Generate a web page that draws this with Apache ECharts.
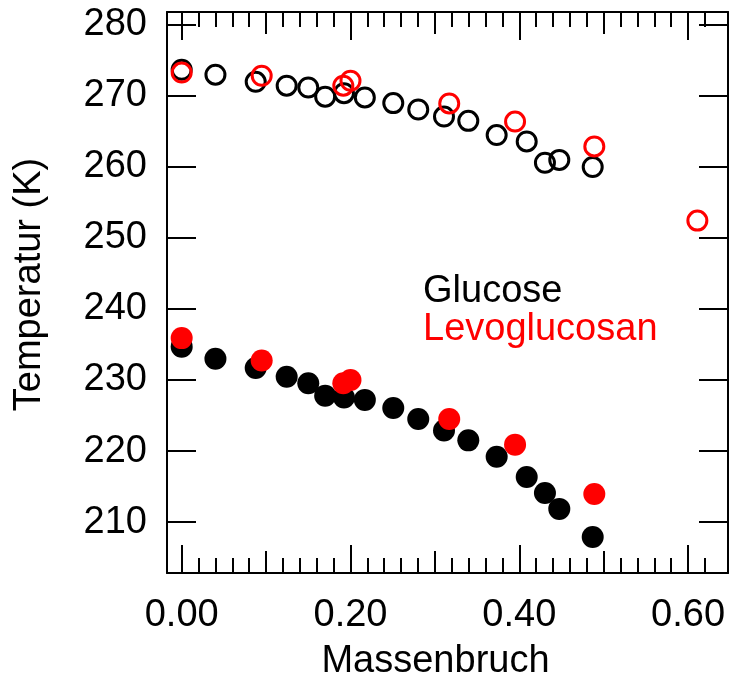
<!DOCTYPE html>
<html>
<head>
<meta charset="utf-8">
<script src="https://cdn.jsdelivr.net/npm/echarts@6/dist/echarts.min.js"></script>
<style>
  html, body { margin: 0; padding: 0; background: #fff; }
  #chart { width: 730px; height: 677px; }
</style>
</head>
<body>
<div id="chart"></div>
<script>
// ---- data ----
const glucoseX = [0.000, 0.040, 0.0877, 0.1244, 0.150, 0.170, 0.1923, 0.217, 0.2507, 0.2803, 0.3108, 0.3396, 0.3732, 0.4088, 0.4304, 0.4474, 0.487];
const glucoseMelt = [273.7, 273.0, 272.0, 271.45, 271.2, 269.9, 270.4, 269.8, 269.0, 268.1, 267.1, 266.5, 264.5, 263.6, 260.6, 261.0, 260.0];
const glucoseFreeze = [234.7, 233.0, 231.7, 230.45, 229.55, 227.8, 227.55, 227.2, 226.05, 224.5, 222.9, 221.5, 219.2, 216.35, 214.1, 211.85, 207.9];

const levoX = [0.000, 0.0948, 0.1915, 0.200, 0.317, 0.395, 0.4889, 0.611];
const levoMelt = [273.3, 272.85, 271.45, 272.15, 268.95, 266.4, 262.9, 252.45];
const levoFreeze = [235.9, 232.75, 229.55, 230.0, 224.5, 220.9, 213.95, null];

const xMajorTicks = [0.0, 0.2, 0.4, 0.6];
const xMidTicks = [0.1, 0.3, 0.5];
const xMinorTicks = [0.02, 0.04, 0.06, 0.08, 0.12, 0.14, 0.16, 0.18, 0.22, 0.24, 0.26, 0.28,
                     0.32, 0.34, 0.36, 0.38, 0.42, 0.44, 0.46, 0.48, 0.52, 0.54, 0.56, 0.58, 0.62];
const yTicks = [210, 220, 230, 240, 250, 260, 270, 280];

const xTitle = 'Massenbruch';
const yTitle = 'Temperatur (K)';
const seriesNames = ['Glucose', 'Levoglucosan'];
const seriesColors = ['#000000', '#ff0000'];

// ---- layout / style ----
const FONT = 'Liberation Sans, Arial, Helvetica, sans-serif';
const FS = 38;
const X_MIN = -0.0174, X_MAX = 0.6473;
const Y_MIN = 202.82, Y_MAX = 281.83;
const gridBox = { left: 167, right: 2, top: 12, bottom: 104, containLabel: false, outerBoundsMode: 'none' };

function pairs(xs, ys) {
  const out = [];
  for (let i = 0; i < xs.length; i++) if (ys[i] != null) out.push([xs[i], ys[i]]);
  return out;
}

function xAxisDef(gridIndex, position, ticks, len, withLabels) {
  return {
    type: 'value', gridIndex, position, min: X_MIN, max: X_MAX,
    axisLine: { show: gridIndex === 0, onZero: false, lineStyle: { color: '#000', width: 2 } },
    splitLine: { show: false },
    axisTick: { show: true, inside: true, length: len, customValues: ticks, lineStyle: { color: '#000', width: 2 } },
    axisLabel: withLabels ? {
      show: true, customValues: ticks, margin: 24, color: '#000',
      fontFamily: FONT, fontSize: FS,
      formatter: v => v.toFixed(2)
    } : { show: false },
    name: withLabels ? xTitle : '',
    nameLocation: 'middle', nameGap: 70,
    nameTextStyle: { color: '#000', fontFamily: FONT, fontSize: FS, padding: [0, 24, 0, 0] }
  };
}

function yAxisDef(gridIndex, position, withLabels, show) {
  return {
    type: 'value', gridIndex, position, min: Y_MIN, max: Y_MAX, show,
    axisLine: { show: true, onZero: false, lineStyle: { color: '#000', width: 2 } },
    splitLine: { show: false },
    axisTick: { show: true, inside: true, length: 29, customValues: yTicks, lineStyle: { color: '#000', width: 2 } },
    axisLabel: withLabels ? {
      show: true, customValues: yTicks, margin: 20, color: '#000',
      fontFamily: FONT, fontSize: FS
    } : { show: false },
    name: withLabels ? yTitle : '',
    nameLocation: 'middle', nameGap: 118, nameRotate: 90,
    nameTextStyle: { color: '#000', fontFamily: FONT, fontSize: FS, padding: [0, 0, 0, 16] }
  };
}

const chart = echarts.init(document.getElementById('chart'), null, { renderer: 'canvas' });

const option = {
  animation: false,
  backgroundColor: '#ffffff',
  grid: [
    Object.assign({}, gridBox),
    Object.assign({}, gridBox),
    Object.assign({}, gridBox)
  ],
  xAxis: [
    xAxisDef(0, 'bottom', xMajorTicks, 28, true),
    xAxisDef(0, 'top', xMajorTicks, 28, false),
    xAxisDef(1, 'bottom', xMidTicks, 22, false),
    xAxisDef(1, 'top', xMidTicks, 22, false),
    xAxisDef(2, 'bottom', xMinorTicks, 15, false),
    xAxisDef(2, 'top', xMinorTicks, 15, false)
  ],
  yAxis: [
    yAxisDef(0, 'left', true, true),
    yAxisDef(0, 'right', false, true),
    yAxisDef(1, 'left', false, false),
    yAxisDef(2, 'left', false, false)
  ],
  legend: {
    orient: 'vertical', left: 413, top: 268,
    icon: 'none', itemWidth: 0, itemHeight: 0, itemGap: 0,
    selectedMode: false,
    textStyle: { fontFamily: FONT, fontSize: FS, lineHeight: 35 },
    data: [
      { name: seriesNames[0], textStyle: { color: seriesColors[0] } },
      { name: seriesNames[1], textStyle: { color: seriesColors[1] } }
    ]
  },
  series: [
    {
      name: seriesNames[0], type: 'scatter', xAxisIndex: 0, yAxisIndex: 0,
      symbol: 'circle', symbolSize: 19,
      itemStyle: { color: 'rgba(0,0,0,0)', borderColor: seriesColors[0], borderWidth: 3, opacity: 1 },
      data: pairs(glucoseX, glucoseMelt)
    },
    {
      name: seriesNames[1], type: 'scatter', xAxisIndex: 0, yAxisIndex: 0,
      symbol: 'circle', symbolSize: 19,
      itemStyle: { color: 'rgba(0,0,0,0)', borderColor: seriesColors[1], borderWidth: 3, opacity: 1 },
      data: pairs(levoX, levoMelt)
    },
    {
      name: seriesNames[0], type: 'scatter', xAxisIndex: 0, yAxisIndex: 0,
      symbol: 'circle', symbolSize: 22,
      itemStyle: { color: seriesColors[0], opacity: 1 },
      data: pairs(glucoseX, glucoseFreeze)
    },
    {
      name: seriesNames[1], type: 'scatter', xAxisIndex: 0, yAxisIndex: 0,
      symbol: 'circle', symbolSize: 22,
      itemStyle: { color: seriesColors[1], opacity: 1 },
      data: pairs(levoX, levoFreeze)
    }
  ]
};

chart.setOption(option);
</script>
</body>
</html>
